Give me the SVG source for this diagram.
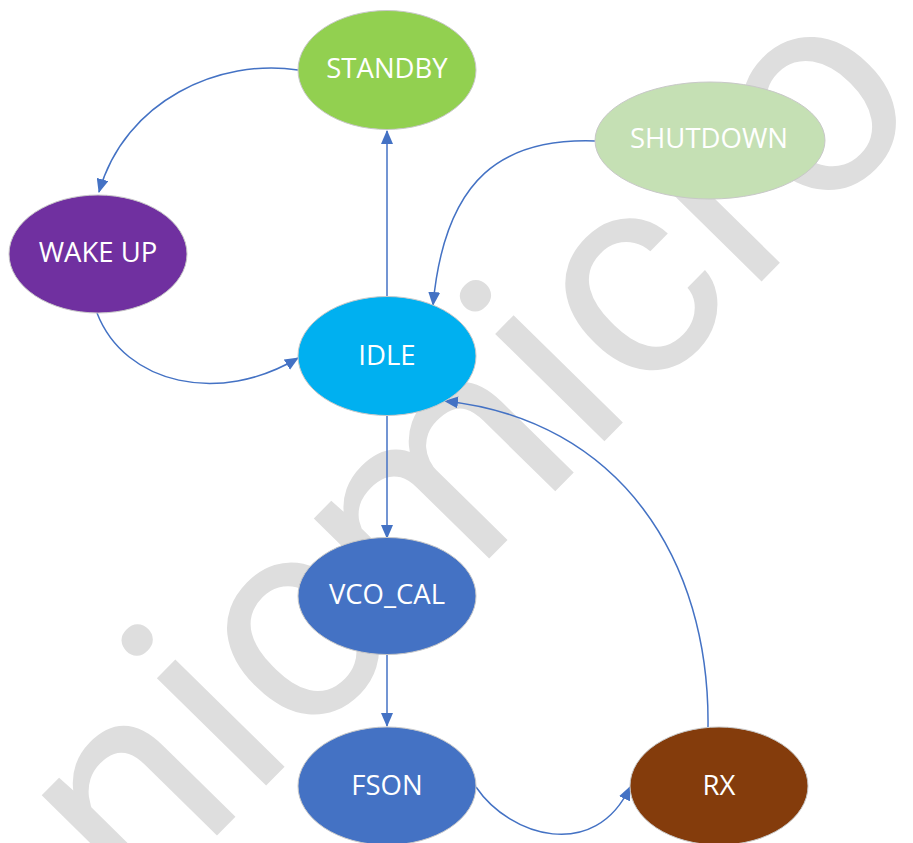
<svg xmlns="http://www.w3.org/2000/svg" width="913" height="843" viewBox="0 0 913 843">
<style>
.node{stroke:#c8c8c8;stroke-width:1}
.lbl{font-family:"Open Sans","Noto Sans",sans-serif;font-size:27.5px;fill:#ffffff;text-anchor:middle}
.edge{fill:none;stroke:#4472c4;stroke-width:1.5}
.wm{font-family:Roboto,"Noto Sans",sans-serif;font-size:290px;fill:#dedede;letter-spacing:2px}
</style>
<defs>
<marker id="arr" markerUnits="userSpaceOnUse" markerWidth="14" markerHeight="12" viewBox="0 0 14 12" refX="13" refY="6" orient="auto">
<path d="M0,0 L14,6 L0,12 z" fill="#4472c4"/>
</marker>
</defs>
<rect width="913" height="843" fill="#ffffff"/>
<text class="wm" transform="translate(137,917) rotate(-45.5)">nicmicro</text>
<g id="connectors">
<path class="edge" d="M298,70 C220,58 125,100 99,192" marker-end="url(#arr)"/>
<path class="edge" d="M97,313 C125,385 220,405 298,358" marker-end="url(#arr)"/>
<path class="edge" d="M387,297 L387,131" marker-end="url(#arr)"/>
<path class="edge" d="M595,141 C505,138 445,175 433,305" marker-end="url(#arr)"/>
<path class="edge" d="M387,416 L387,538" marker-end="url(#arr)"/>
<path class="edge" d="M387,655 L387,726" marker-end="url(#arr)"/>
<path class="edge" d="M476,787 C510,837 595,862 630,787" marker-end="url(#arr)"/>
<path class="edge" d="M708,727 C710,560 620,420 445,401" marker-end="url(#arr)"/>
</g>
<g id="standby"><ellipse class="node" cx="387" cy="70" rx="89" ry="59.5" fill="#92d050"/><text class="lbl" x="387" y="78">STANDBY</text></g>
<g id="wakeup"><ellipse class="node" cx="98" cy="254" rx="89" ry="59" fill="#7030a0"/><text class="lbl" x="98" y="262">WAKE UP</text></g>
<g id="shutdown"><ellipse class="node" cx="710" cy="140.5" rx="115" ry="58.5" fill="#c5e0b4"/><text class="lbl" x="709" y="148">SHUTDOWN</text></g>
<g id="idle"><ellipse class="node" cx="387" cy="356" rx="89" ry="59.5" fill="#00b0f0"/><text class="lbl" x="387" y="365">IDLE</text></g>
<g id="vco_cal"><ellipse class="node" cx="387" cy="596" rx="89" ry="58.5" fill="#4472c4"/><text class="lbl" x="387" y="604">VCO_CAL</text></g>
<g id="fson"><ellipse class="node" cx="387" cy="786" rx="89" ry="59" fill="#4472c4"/><text class="lbl" x="387" y="795">FSON</text></g>
<g id="rx"><ellipse class="node" cx="719" cy="786" rx="89" ry="59" fill="#843c0c"/><text class="lbl" x="719" y="795">RX</text></g>
</svg>
